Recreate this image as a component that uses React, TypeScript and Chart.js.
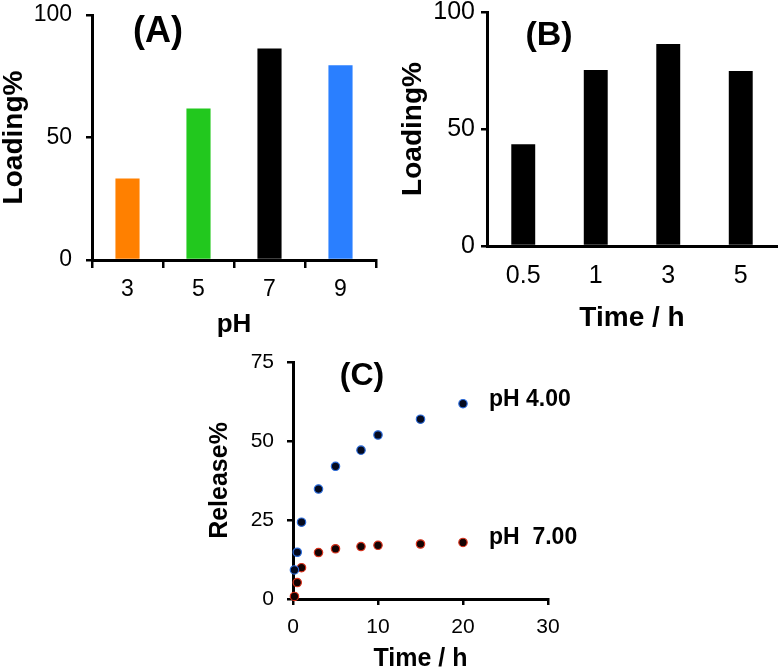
import React, { useEffect, useRef } from "react";
import { Chart, registerables } from "chart.js";

Chart.register(...registerables);

const FONT = "'Liberation Sans', Arial, sans-serif";

// Panel A: loading vs pH
const phCategories = ["3", "5", "7", "9"];
const phLoading = [33.3, 61.8, 86.3, 79.5];
const phColors = ["#FF8000", "#22C81E", "#000000", "#2A7FFF"];

// Panel B: loading vs time
const timeCategories = ["0.5", "1", "3", "5"];
const timeLoading = [43.5, 75.2, 86.3, 74.8];

// Panel C: release vs time
const releaseTimes = [0.17, 0.5, 1, 3, 5, 8, 10, 15, 20];
const releasePH4 = [9.2, 14.8, 24.3, 34.8, 42.0, 47.1, 51.9, 56.9, 61.8];
const releasePH7 = [0.8, 5.2, 9.9, 14.7, 15.9, 16.6, 17.0, 17.4, 17.9];

const loadingTicks = [0, 50, 100];
const releaseYTicks = [0, 25, 50, 75];
const releaseXTicks = [0, 10, 20, 30];

const textPlugin = {
  id: "panelText",
  afterDraw(chart: any, _args: any, opts: any) {
    const { ctx, chartArea } = chart;
    ctx.save();
    ctx.fillStyle = "#000";
    if (opts && opts.panel) {
      const p = opts.panel;
      ctx.font = `bold ${p.size}px ${FONT}`;
      ctx.textAlign = "center";
      ctx.textBaseline = "middle";
      ctx.fillText(p.text, chartArea.left + p.dx, chartArea.top + p.dy);
    }
    if (opts && opts.series) {
      const s = opts.series;
      ctx.font = `bold ${s.size}px ${FONT}`;
      ctx.textAlign = "left";
      ctx.textBaseline = "middle";
      chart.data.datasets.forEach((ds: any, i: number) => {
        const meta = chart.getDatasetMeta(i);
        const last = meta.data[meta.data.length - 1];
        if (last) ctx.fillText(ds.label, last.x + s.dx, last.y + s.dy);
      });
    }
    ctx.restore();
  },
};

function fixY(w: number) {
  return (s: any) => {
    s.width = w;
    s.paddingTop = 0;
    s.paddingBottom = 0;
  };
}
function fixX(h: number) {
  return (s: any) => {
    s.height = h;
  };
}

function useChart(ref: React.RefObject<HTMLCanvasElement | null>, make: () => any) {
  useEffect(() => {
    if (!ref.current) return;
    const chart = new Chart(ref.current, make());
    return () => chart.destroy();
  }, []);
}

export default function App() {
  const refA = useRef<HTMLCanvasElement>(null);
  const refB = useRef<HTMLCanvasElement>(null);
  const refC = useRef<HTMLCanvasElement>(null);

  useChart(refA, () => ({
    type: "bar",
    data: {
      labels: phCategories,
      datasets: [
        {
          data: phLoading,
          backgroundColor: phColors,
          barPercentage: 0.34,
          categoryPercentage: 1,
        },
      ],
    },
    plugins: [textPlugin],
    options: {
      animation: false,
      responsive: false,
      layout: { padding: { top: 15, right: 14, bottom: 0, left: 0 } },
      plugins: {
        legend: { display: false },
        tooltip: { enabled: false },
        panelText: { panel: { text: "(A)", size: 36, dx: 66, dy: 17 } },
      },
      scales: {
        x: {
          afterFit: fixX(80),
          grid: {
            display: true,
            drawOnChartArea: false,
            offset: true,
            tickLength: 8,
            lineWidth: 2.5,
            color: (c: any) => (c.index >= 4 ? "rgba(0,0,0,0)" : "#000"),
          },
          border: { display: true, color: "#000", width: 3 },
          ticks: { color: "#000", padding: 8, font: { family: FONT, size: 23 } },
          title: {
            display: true,
            text: "pH",
            color: "#000",
            padding: { top: 0, bottom: 0 },
            font: { family: FONT, size: 26, weight: "bold" },
          },
        },
        y: {
          min: 0,
          max: 100,
          afterFit: fixY(92),
          afterBuildTicks: (s: any) => {
            s.ticks = loadingTicks.map((v) => ({ value: v }));
          },
          grid: { display: true, drawOnChartArea: false, tickLength: 6, lineWidth: 2.5, color: "#000" },
          border: { display: true, color: "#000", width: 3 },
          ticks: { color: "#000", padding: 14, font: { family: FONT, size: 23 } },
          title: {
            display: true,
            text: "Loading%",
            color: "#000",
            padding: { top: -3, bottom: 0 },
            font: { family: FONT, size: 28, weight: "bold" },
          },
        },
      },
    },
  }));

  useChart(refB, () => ({
    type: "bar",
    data: {
      labels: timeCategories,
      datasets: [
        {
          data: timeLoading,
          backgroundColor: "#000",
          barPercentage: 0.33,
          categoryPercentage: 1,
        },
      ],
    },
    plugins: [textPlugin],
    options: {
      animation: false,
      responsive: false,
      layout: { padding: { top: 12, right: 2, bottom: 0, left: 0 } },
      plugins: {
        legend: { display: false },
        tooltip: { enabled: false },
        panelText: { panel: { text: "(B)", size: 34, dx: 62, dy: 24 } },
      },
      scales: {
        x: {
          afterFit: fixX(94),
          grid: { display: false, drawTicks: false, tickLength: 0 },
          border: { display: true, color: "#000", width: 3 },
          ticks: { color: "#000", padding: 15, font: { family: FONT, size: 25 } },
          title: {
            display: true,
            text: "Time / h",
            color: "#000",
            padding: { top: 0, bottom: 5 },
            font: { family: FONT, size: 28, weight: "bold" },
          },
        },
        y: {
          min: 0,
          max: 100,
          afterFit: fixY(97),
          afterBuildTicks: (s: any) => {
            s.ticks = loadingTicks.map((v) => ({ value: v }));
          },
          grid: { display: true, drawOnChartArea: false, tickLength: 6, lineWidth: 2.5, color: "#000" },
          border: { display: true, color: "#000", width: 3 },
          ticks: { color: "#000", padding: 6, font: { family: FONT, size: 25 } },
          title: {
            display: true,
            text: "Loading%",
            color: "#000",
            padding: { top: 6, bottom: 0 },
            font: { family: FONT, size: 28, weight: "bold" },
          },
        },
      },
    },
  }));

  useChart(refC, () => ({
    type: "scatter",
    data: {
      datasets: [
        {
          label: "pH 4.00",
          data: releaseTimes.map((t, i) => ({ x: t, y: releasePH4[i] })),
          backgroundColor: "#050A1E",
          borderColor: "#2B6BDA",
          borderWidth: 1.2,
          pointRadius: 4.2,
        },
        {
          label: "pH  7.00",
          data: releaseTimes.map((t, i) => ({ x: t, y: releasePH7[i] })),
          backgroundColor: "#140303",
          borderColor: "#D8321C",
          borderWidth: 1.2,
          pointRadius: 4.2,
        },
      ],
    },
    plugins: [textPlugin],
    options: {
      animation: false,
      responsive: false,
      clip: false,
      layout: { padding: { top: 32, right: 62, bottom: 0, left: 0 } },
      plugins: {
        legend: { display: false },
        tooltip: { enabled: false },
        panelText: {
          panel: { text: "(C)", size: 32, dx: 69, dy: 14 },
          series: { size: 23, dx: 26, dy: -4.5 },
        },
      },
      scales: {
        x: {
          type: "linear",
          min: 0,
          max: 30,
          afterFit: fixX(70),
          afterBuildTicks: (s: any) => {
            s.ticks = releaseXTicks.map((v) => ({ value: v }));
          },
          grid: { display: true, drawOnChartArea: false, tickLength: 6, lineWidth: 2.5, color: "#000" },
          border: { display: true, color: "#000", width: 3 },
          ticks: { color: "#000", padding: 10, font: { family: FONT, size: 21 } },
          title: {
            display: true,
            text: "Time / h",
            color: "#000",
            padding: { top: 0, bottom: -5 },
            font: { family: FONT, size: 25, weight: "bold" },
          },
        },
        y: {
          type: "linear",
          min: 0,
          max: 75,
          afterFit: fixY(103),
          afterBuildTicks: (s: any) => {
            s.ticks = releaseYTicks.map((v) => ({ value: v }));
          },
          grid: { display: true, drawOnChartArea: false, tickLength: 6, lineWidth: 2.5, color: "#000" },
          border: { display: true, color: "#000", width: 3 },
          ticks: { color: "#000", padding: 13, font: { family: FONT, size: 21 } },
          title: {
            display: true,
            text: "Release%",
            color: "#000",
            padding: { top: 15, bottom: 0 },
            font: { family: FONT, size: 25, weight: "bold" },
          },
        },
      },
    },
  }));

  return (
    <div
      style={{
        position: "absolute",
        left: 0,
        top: 0,
        width: 779,
        height: 669,
        overflow: "hidden",
        background: "#fff",
      }}
    >
      <canvas
        ref={refA}
        width={390}
        height={340}
        style={{ position: "absolute", left: 0, top: 0, width: 390, height: 340 }}
      />
      <canvas
        ref={refB}
        width={389}
        height={340}
        style={{ position: "absolute", left: 390, top: 0, width: 389, height: 340 }}
      />
      <canvas
        ref={refC}
        width={420}
        height={339}
        style={{ position: "absolute", left: 190, top: 330, width: 420, height: 339 }}
      />
    </div>
  );
}
